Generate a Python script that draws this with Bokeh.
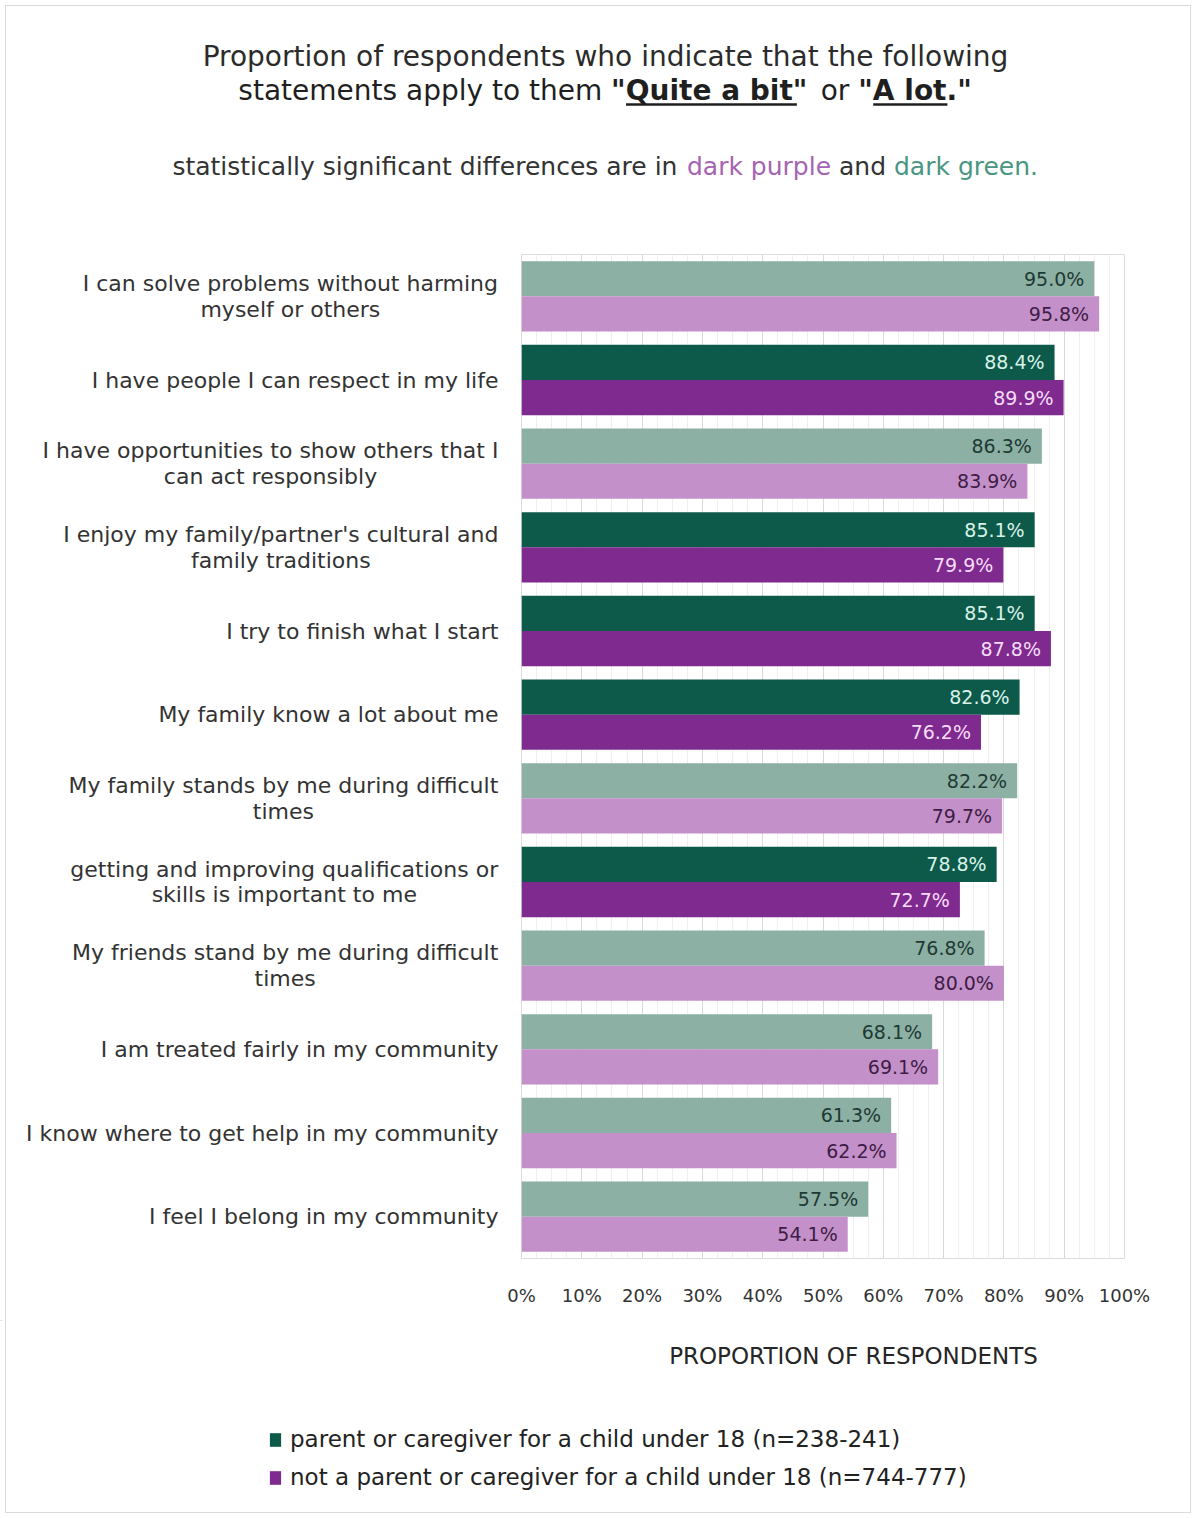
from bokeh.plotting import figure
from bokeh.layouts import column, row
from bokeh.models import (ColumnDataSource, Legend, LegendItem, Range1d,
                          SingleIntervalTicker, FixedTicker, PrintfTickFormatter)
from bokeh.core.properties import value
from bokeh.embed import file_html
from bokeh.resources import INLINE

# ---------------- data ----------------
categories = [
    "I can solve problems without harming\nmyself or others",
    "I have people I can respect in my life",
    "I have opportunities to show others that I\ncan act responsibly",
    "I enjoy my family/partner's cultural and\nfamily traditions",
    "I try to finish what I start",
    "My family know a lot about me",
    "My family stands by me during difficult\ntimes",
    "getting and improving qualifications or\nskills is important to me",
    "My friends stand by me during difficult\ntimes",
    "I am treated fairly in my community",
    "I know where to get help in my community",
    "I feel I belong in my community",
]
parent_pct = [95.0, 88.4, 86.3, 85.1, 85.1, 82.6, 82.2, 78.8, 76.8, 68.1, 61.3, 57.5]
nonparent_pct = [95.8, 89.9, 83.9, 79.9, 87.8, 76.2, 79.7, 72.7, 80.0, 69.1, 62.2, 54.1]
significant = [False, True, False, True, True, True, False, True, False, False, False, False]
series_names = [
    "parent or caregiver for a child under 18 (n=238-241)",
    "not a parent or caregiver for a child under 18 (n=744-777)",
]
title_line1 = "Proportion of respondents who indicate that the following"
title_line2 = ["statements apply to them", "\"Quite a bit\"", "or", "\"A lot.\""]
subtitle = ["statistically significant differences are in", "dark purple", "and", "dark green."]
x_title = "PROPORTION OF RESPONDENTS"

# ---------------- style ----------------
FONT = "DejaVu Sans"
DARK_GREEN, LIGHT_GREEN = "#0d5a4b", "#8db0a5"
DARK_PURPLE, LIGHT_PURPLE = "#7e2a8f", "#c490c9"
TXT = "#333333"

W = 1196
LEFT_W = 503            # width of the category-label column
MAIN_LB = 18            # left border of the chart (room for the "0%" tick label)
RIGHT_PAD = 72
TOP_H = 240             # header height
MAIN_H = 1080           # chart row height
BOT_H = 1518 - TOP_H - MAIN_H
MB_TOP, MB_BOT = 14, 62

EM = {' ': .318, '!': .401, '"': .46, '%': .95, "'": .275, '(': .39, ')': .39, ',': .318,
      '-': .361, '.': .318, '/': .337, '=': .838, 'A': .684, 'B': .686, 'C': .698, 'D': .77,
      'E': .632, 'F': .575, 'G': .775, 'H': .752, 'I': .295, 'J': .295, 'K': .656, 'L': .557,
      'M': .863, 'N': .748, 'O': .787, 'P': .603, 'Q': .787, 'R': .695, 'S': .635, 'T': .611,
      'U': .732, 'V': .684, 'W': .989, 'X': .685, 'Y': .611, 'Z': .685, 'a': .613, 'b': .635,
      'c': .55, 'd': .635, 'e': .615, 'f': .352, 'g': .635, 'h': .634, 'i': .278, 'j': .278,
      'k': .579, 'l': .278, 'm': .974, 'n': .634, 'o': .612, 'p': .635, 'q': .635, 'r': .411,
      's': .521, 't': .392, 'u': .634, 'v': .592, 'w': .818, 'x': .592, 'y': .592, 'z': .525}


def tw(s, size, bold=False):
    w = sum(EM.get(c, 0.636) for c in s) * size
    return w * 1.16 if bold else w


def blank_fig(width, height, x_range, y_range):
    f = figure(width=width, height=height, x_range=x_range, y_range=y_range,
               x_axis_type=None, y_axis_type=None, output_backend="svg",
               toolbar_location=None, min_border=0)
    f.outline_line_color = None
    f.grid.visible = False
    f.background_fill_color = None
    f.border_fill_color = None
    return f


n = len(categories)
ycent = [n - 0.5 - i for i in range(n)]
BAR_H = 0.42

# ---------------- main chart ----------------
green_src = ColumnDataSource(dict(
    y=[c + BAR_H / 2 for c in ycent], v=parent_pct,
    color=[DARK_GREEN if s else LIGHT_GREEN for s in significant],
    txt=[f"{v:.1f}%" for v in parent_pct],
    tcolor=["#d9f2e8" if s else "#1d3a33" for s in significant]))
purple_src = ColumnDataSource(dict(
    y=[c - BAR_H / 2 for c in ycent], v=nonparent_pct,
    color=[DARK_PURPLE if s else LIGHT_PURPLE for s in significant],
    txt=[f"{v:.1f}%" for v in nonparent_pct],
    tcolor=["#f7dcf7" if s else "#3d1c45" for s in significant]))

p = figure(width=W - LEFT_W, height=MAIN_H, x_range=Range1d(0, 100), y_range=Range1d(0, n),
           y_axis_type=None, output_backend="svg", toolbar_location=None,
           min_border_left=MAIN_LB, min_border_right=RIGHT_PAD,
           min_border_top=MB_TOP, min_border_bottom=MB_BOT)
p.background_fill_color = "white"
p.border_fill_color = None
p.outline_line_color = "#dcdcdc"

xa = p.xaxis[0]
xa.ticker = SingleIntervalTicker(interval=10, num_minor_ticks=4)
xa.formatter = PrintfTickFormatter(format="%d%%")
xa.axis_line_color = None
xa.major_tick_line_color = None
xa.minor_tick_line_color = None
xa.major_label_standoff = 20
xa.major_label_text_font = FONT
xa.major_label_text_font_size = "18px"
xa.major_label_text_color = TXT

p.xgrid.grid_line_color = "#d9d9d9"
p.xgrid.minor_grid_line_color = "#efefef"
p.ygrid.ticker = FixedTicker(ticks=list(range(n + 1)))
p.ygrid.grid_line_color = "#e2e2e2"

p.hbar(y="y", left=0, right="v", height=BAR_H, fill_color="color", line_color=None,
       source=green_src)
p.hbar(y="y", left=0, right="v", height=BAR_H, fill_color="color", line_color=None,
       source=purple_src)
for src in (green_src, purple_src):
    p.text(x="v", y="y", text="txt", text_color="tcolor", text_align="right",
           text_baseline="middle", x_offset=-10, text_font=value(FONT),
           text_font_size="19px", source=src)

# ---------------- category labels (left column, shares y scale) ----------------
left = blank_fig(LEFT_W, MAIN_H, Range1d(0, LEFT_W), p.y_range)
left.min_border_top = MB_TOP
left.min_border_bottom = MB_BOT
RIGHT = 498
CAT_SIZE = 22
lx, al = [], []
for cat in categories:
    lines = cat.split("\n")
    if len(lines) == 1:
        lx.append(RIGHT)
        al.append("right")
    else:
        lx.append(RIGHT - tw(lines[0], CAT_SIZE) / 2)
        al.append("center")
left.text(x=lx, y=ycent, text=categories, text_align=al, text_baseline="middle",
          text_font=value(FONT), text_font_size=f"{CAT_SIZE}px", text_color="#333333",
          text_line_height=1.02)

# ---------------- header ----------------
top = blank_fig(W, TOP_H, Range1d(0, W), Range1d(TOP_H, 0))
T_SIZE = 28
top.text(x=[605], y=[56], text=[title_line1], text_align="center", text_baseline="middle",
         text_font=value(FONT), text_font_size=f"{T_SIZE}px", text_color="#2b2b2b")
bolds = [False, True, False, True]
sp = tw(" ", T_SIZE)
widths = [tw(s, T_SIZE, b) for s, b in zip(title_line2, bolds)]
x0 = 605 - (sum(widths) + sp * (len(widths) - 1)) / 2
for s, b, w in zip(title_line2, bolds, widths):
    top.text(x=[x0], y=[90], text=[s], text_align="left", text_baseline="middle",
             text_font=value(FONT), text_font_size=f"{T_SIZE}px",
             text_font_style="bold" if b else "normal", text_color="#1f1f1f")
    if b:
        q = tw('"', T_SIZE, True)
        tail = tw('."', T_SIZE, True) if s.endswith('."') else q
        top.segment(x0=[x0 + q], y0=[104], x1=[x0 + w - tail], y1=[104],
                    line_color="#1f1f1f", line_width=2.5)
    x0 += w + sp

S_SIZE = 25
sub_colors = ["#333333", "#a663b1", "#333333", "#4a9682"]
sp = tw(" ", S_SIZE)
widths = [tw(s, S_SIZE) for s in subtitle]
x0 = 605 - (sum(widths) + sp * (len(widths) - 1)) / 2
for s, c, w in zip(subtitle, sub_colors, widths):
    top.text(x=[x0], y=[166], text=[s], text_align="left", text_baseline="middle",
             text_font=value(FONT), text_font_size=f"{S_SIZE}px", text_color=c)
    x0 += w + sp

# ---------------- footer: axis title + legend ----------------
Y0 = TOP_H + MAIN_H
bot = blank_fig(W, BOT_H, Range1d(0, W), Range1d(Y0 + BOT_H, Y0))
bot.text(x=[853], y=[1355], text=[x_title], text_align="center", text_baseline="middle",
         text_font=value(FONT), text_font_size="23px", text_color="#262626")
# legend swatches (placed outside the visible range; only their legend glyphs show)
sw_g = bot.hbar(y=[-100], left=[0], right=[1], height=1, fill_color=DARK_GREEN, line_color=None)
sw_p = bot.hbar(y=[-100], left=[0], right=[1], height=1, fill_color=DARK_PURPLE, line_color=None)
legend = Legend(items=[LegendItem(label=series_names[0], renderers=[sw_g]),
                       LegendItem(label=series_names[1], renderers=[sw_p])],
                location=(268, Y0 + BOT_H - 1491), orientation="vertical",
                border_line_color=None, background_fill_alpha=0, padding=0, margin=0,
                spacing=10, glyph_width=14, glyph_height=17, label_height=28,
                label_standoff=8, label_text_font=FONT, label_text_font_size="23px",
                label_text_color="#222222")
bot.add_layout(legend)

layout = column(top, row(left, p), bot,
                styles={"outline": "1px solid #dadada", "outline-offset": "-6px",
                        "background-color": "white"})
open("out.html", "w").write(file_html(layout, INLINE))
